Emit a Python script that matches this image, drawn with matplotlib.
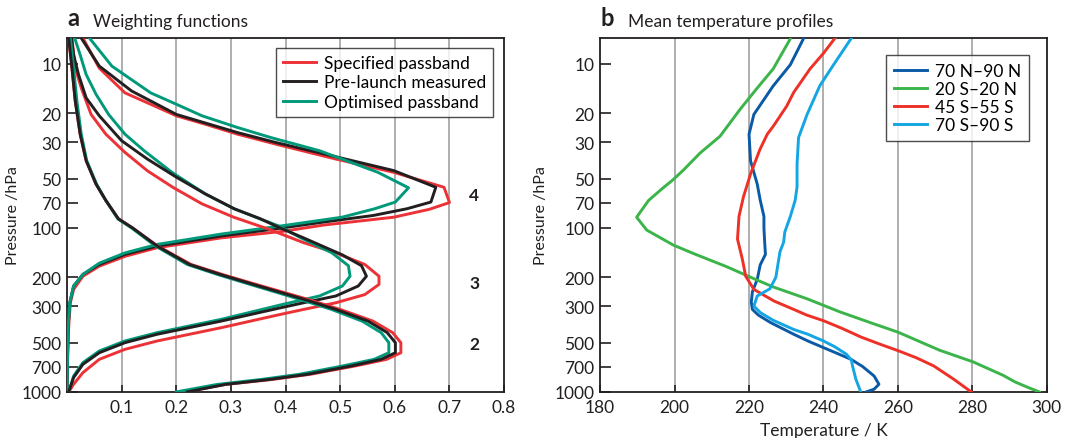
import matplotlib
matplotlib.use("Agg")
import matplotlib.pyplot as plt
from matplotlib.ticker import FixedLocator, NullLocator

plt.rcParams['font.family'] = ['Lato', 'DejaVu Sans']

# ---------------- Panel a: weighting functions ----------------
# Channel 4
P4_spec = [6.95, 10.6, 15.0, 17.6, 20.7, 23.3, 26.8, 31.0, 38.0, 45.8, 56.5, 70.0, 77.0, 86.0, 96.0, 105.0, 115.0, 132.0, 149.0, 171.0, 197.0, 237.0, 286.0, 400.0, 600.0, 1000.0]
W4_spec = [0.029, 0.059, 0.106, 0.153, 0.200, 0.253, 0.312, 0.385, 0.492, 0.598, 0.690, 0.700, 0.663, 0.598, 0.470, 0.394, 0.282, 0.165, 0.106, 0.059, 0.029, 0.012, 0.006, 0.003, 0.001, 0.0]
P4_meas = [6.95, 10.3, 14.6, 20.3, 26.2, 30.0, 36.8, 44.7, 56.5, 69.5, 76.4, 84.0, 92.0, 100.0, 112.0, 129.0, 145.0, 167.0, 192.0, 226.0, 286.0, 400.0, 600.0, 1000.0]
W4_meas = [0.026, 0.059, 0.118, 0.200, 0.312, 0.380, 0.492, 0.598, 0.675, 0.666, 0.622, 0.560, 0.470, 0.394, 0.282, 0.165, 0.106, 0.059, 0.029, 0.012, 0.005, 0.002, 0.001, 0.0]
P4_opt = [6.95, 10.3, 15.0, 17.6, 20.7, 24.4, 28.1, 33.8, 45.8, 56.9, 69.5, 76.4, 85.9, 97.0, 109.0, 126.0, 142.0, 164.0, 192.0, 226.0, 286.0, 400.0, 600.0, 1000.0]
W4_opt = [0.041, 0.082, 0.153, 0.200, 0.247, 0.312, 0.373, 0.462, 0.569, 0.625, 0.601, 0.563, 0.504, 0.394, 0.282, 0.165, 0.106, 0.059, 0.029, 0.012, 0.005, 0.002, 0.001, 0.0]

# Channel 3
P3_spec = [6.95, 10.6, 14.0, 20.3, 26.8, 34.6, 44.8, 56.6, 71.3, 86.0, 102.0, 123.0, 142.0, 167.0, 197.0, 221.0, 255.0, 286.0, 314.0, 340.0, 406.0, 489.0, 550.0, 633.0, 763.0, 898.0, 1000.0]
W3_spec = [0.009, 0.015, 0.026, 0.044, 0.071, 0.106, 0.147, 0.194, 0.247, 0.305, 0.370, 0.433, 0.492, 0.545, 0.571, 0.571, 0.545, 0.492, 0.433, 0.385, 0.282, 0.165, 0.106, 0.059, 0.029, 0.012, 0.003]
P3_meas = [6.95, 8.8, 11.6, 16.1, 20.7, 29.4, 38.0, 49.0, 62.0, 76.4, 87.7, 100.0, 115.0, 146.0, 170.0, 197.0, 226.0, 260.0, 286.0, 310.0, 370.0, 445.0, 501.0, 577.0, 679.0, 818.0, 1000.0]
W3_meas = [0.008, 0.012, 0.021, 0.035, 0.059, 0.100, 0.147, 0.200, 0.253, 0.306, 0.353, 0.390, 0.433, 0.504, 0.539, 0.548, 0.533, 0.492, 0.433, 0.385, 0.282, 0.165, 0.106, 0.059, 0.029, 0.012, 0.003]
P3_opt = [6.95, 8.8, 11.6, 15.3, 20.3, 26.8, 33.8, 45.8, 62.0, 76.4, 88.0, 98.0, 115.0, 142.0, 170.0, 197.0, 226.0, 260.0, 293.0, 361.0, 435.0, 489.0, 563.0, 663.0, 800.0, 1000.0]
W3_opt = [0.014, 0.024, 0.035, 0.053, 0.076, 0.106, 0.141, 0.192, 0.253, 0.306, 0.353, 0.390, 0.428, 0.485, 0.515, 0.518, 0.504, 0.462, 0.394, 0.282, 0.165, 0.106, 0.059, 0.029, 0.012, 0.003]

# Channel 2
P2 = [6.95, 10.6, 16.8, 26.8, 38.9, 54.0, 68.0, 88.0, 100.0, 129.0, 167.0, 193.0, 221.0, 249.0, 272.0, 314.0, 370.0, 435.0, 501.0, 577.0, 633.0, 694.0, 781.0, 840.0, 900.0, 1000.0]
W2_spec = [0.003, 0.009, 0.015, 0.024, 0.035, 0.053, 0.071, 0.094, 0.120, 0.166, 0.227, 0.286, 0.346, 0.400, 0.440, 0.500, 0.560, 0.596, 0.611, 0.611, 0.585, 0.528, 0.445, 0.375, 0.290, 0.215]
W2_meas = [0.003, 0.009, 0.015, 0.024, 0.035, 0.053, 0.071, 0.094, 0.120, 0.165, 0.224, 0.282, 0.341, 0.394, 0.433, 0.492, 0.551, 0.586, 0.601, 0.601, 0.575, 0.521, 0.440, 0.370, 0.290, 0.220]
W2_opt = [0.006, 0.012, 0.018, 0.026, 0.036, 0.054, 0.071, 0.093, 0.118, 0.162, 0.220, 0.277, 0.335, 0.387, 0.425, 0.484, 0.540, 0.575, 0.589, 0.589, 0.562, 0.505, 0.425, 0.355, 0.275, 0.200]

series_labels_a = ["Specified passband", "Pre-launch measured", "Optimised passband"]
channel_labels = ["4", "3", "2"]
channel_label_P = [63, 216, 510]

# ---------------- Panel b: mean temperature profiles ----------------
P_70N = [6.95, 10.1, 13.6, 20.3, 26.8, 38.9, 54, 67.7, 85, 100, 122, 145, 168, 206, 245, 283, 314, 340, 378, 445, 489, 537, 580, 633, 700, 800, 898, 963, 1000]
T_70N = [234.7, 231.1, 226.5, 221.3, 220.0, 220.4, 222.2, 223.0, 224.0, 224.0, 224.2, 224.4, 223.0, 222.2, 220.9, 220.6, 220.9, 222.5, 225.8, 232.0, 235.8, 240.0, 243.5, 247.4, 250.5, 253.6, 254.9, 253.6, 251.5]
P_20S = [6.95, 10.7, 14.2, 18.9, 27.6, 35, 44.3, 51, 58, 68, 86, 103, 127, 143, 172, 203, 229, 270, 325, 383, 432, 557, 656, 791, 870, 940, 1000]
T_20S = [231.2, 226.5, 222.0, 217.6, 212.2, 206.8, 202.4, 199.5, 196.5, 193.0, 189.8, 192.5, 199.6, 205.0, 213.9, 221.1, 226.5, 235.5, 244.4, 253.3, 260.0, 271.2, 280.2, 288.2, 291.5, 295.0, 298.0]
P_45S = [6.95, 8.6, 10.7, 14.9, 18.1, 24, 26.8, 33.3, 46.9, 64.6, 85, 100, 117, 155, 197, 237, 279, 314, 340, 368, 410, 462, 510, 560, 620, 694, 837, 920, 1000]
T_45S = [243.1, 240.0, 236.4, 232.0, 230.1, 226.5, 224.9, 222.9, 220.4, 218.5, 217.3, 217.1, 216.9, 218.2, 219.1, 221.3, 226.7, 232.0, 235.5, 240.0, 245.0, 250.0, 255.0, 260.0, 265.0, 269.6, 275.0, 277.5, 279.7]
P_70S = [6.95, 10.2, 13.6, 20.3, 28.1, 40.7, 56, 67.7, 85, 106, 122, 140, 200, 235, 260, 300, 329, 366, 416, 445, 489, 530, 590, 640, 694, 837, 1000]
T_70S = [247.5, 242.6, 239.0, 235.6, 233.3, 232.9, 232.9, 232.4, 231.1, 229.6, 229.3, 228.3, 227.2, 225.6, 222.2, 221.3, 223.1, 226.5, 232.0, 235.8, 240.0, 243.0, 246.2, 247.5, 247.8, 248.7, 250.0]
series_labels_b = ["70 N\u201390 N", "20 S\u201320 N", "45 S\u201355 S", "70 S\u201390 S"]

p_ticks = [10, 20, 30, 50, 70, 100, 200, 300, 500, 700, 1000]
xticks_a = [0.1, 0.2, 0.3, 0.4, 0.5, 0.6, 0.7, 0.8]
xticks_b = [180, 200, 220, 240, 260, 280, 300]

# ---------------- styling ----------------
C_RED = '#ec3237'
C_BLK = '#231f20'
C_GRN = '#00997a'
C_B_DB = '#0b5aa6'
C_B_GR = '#3bb44a'
C_B_RD = '#ee3127'
C_B_LB = '#14a6e2'
GRID_C = '#a8a8a8'
LW = 2.1
FS = 12.5

fig = plt.figure(figsize=(10.66, 4.39), dpi=100)
axA = fig.add_axes([0.0629, 0.105, 0.410, 0.806])
axB = fig.add_axes([0.563, 0.105, 0.419, 0.806])


def style_axis(ax, xticks, xlim):
    ax.set_yscale('log')
    ax.set_ylim(1000, 6.95)
    ax.set_xlim(*xlim)
    ax.yaxis.set_major_locator(FixedLocator(p_ticks))
    ax.set_yticklabels([str(p) for p in p_ticks])
    ax.yaxis.set_minor_locator(NullLocator())
    ax.set_xticks(xticks)
    ax.set_xticklabels([("%g" % v) for v in xticks])
    ax.tick_params(axis='y', direction='in', length=8, width=1.2, pad=4,
                   labelsize=FS, colors='#231f20')
    ax.tick_params(axis='x', direction='in', length=5, width=1.2, pad=5,
                   labelsize=FS, colors='#231f20')
    for s in ax.spines.values():
        s.set_linewidth(1.3)
        s.set_color('#231f20')
    for xv in xticks:
        if xlim[0] < xv < xlim[1]:
            ax.axvline(xv, color=GRID_C, lw=1.3, zorder=0)


style_axis(axA, xticks_a, (0, 0.8))
style_axis(axB, xticks_b, (180, 300))

# Panel a lines
hs = []
for (P, W, c, lab) in [(P4_spec, W4_spec, C_RED, series_labels_a[0]),
                       (P4_meas, W4_meas, C_BLK, series_labels_a[1]),
                       (P4_opt, W4_opt, C_GRN, series_labels_a[2])]:
    h, = axA.plot(W, P, color=c, lw=LW, label=lab, zorder=3)
    hs.append(h)
for (P, W, c) in [(P3_spec, W3_spec, C_RED), (P3_opt, W3_opt, C_GRN), (P3_meas, W3_meas, C_BLK),
                  (P2, W2_spec, C_RED), (P2, W2_opt, C_GRN), (P2, W2_meas, C_BLK)]:
    axA.plot(W, P, color=c, lw=LW, zorder=3)

for lab, p in zip(channel_labels, channel_label_P):
    axA.text(0.745, p, lab, fontsize=FS, fontweight='bold', ha='center', va='center',
             color='#231f20')

legA = axA.legend(handles=hs, loc='upper right', bbox_to_anchor=(0.975, 0.972),
                  borderaxespad=0, fancybox=False, frameon=True, fontsize=FS,
                  handlelength=1.9, handletextpad=0.45, labelspacing=0.2,
                  borderpad=0.4)
legA.get_frame().set_edgecolor('#231f20')
legA.get_frame().set_linewidth(1.0)

# Panel b lines
hb = []
for (P, T, c, lab) in [(P_70N, T_70N, C_B_DB, series_labels_b[0]),
                       (P_20S, T_20S, C_B_GR, series_labels_b[1]),
                       (P_45S, T_45S, C_B_RD, series_labels_b[2]),
                       (P_70S, T_70S, C_B_LB, series_labels_b[3])]:
    h, = axB.plot(T, P, color=c, lw=LW, label=lab, zorder=3)
    hb.append(h)

legB = axB.legend(handles=hb, loc='upper right', bbox_to_anchor=(0.96, 0.952),
                  borderaxespad=0, fancybox=False, frameon=True, fontsize=FS,
                  handlelength=1.9, handletextpad=0.45, labelspacing=0.12,
                  borderpad=0.45)
legB.get_frame().set_edgecolor('#231f20')
legB.get_frame().set_linewidth(1.0)

# Labels and titles
for ax in (axA, axB):
    ax.set_ylabel('Pressure /hPa', fontsize=11.5, color='#231f20')
axA.yaxis.set_label_coords(-0.108, 0.5)
axB.yaxis.set_label_coords(-0.116, 0.5)
axB.set_xlabel('Temperature / K', fontsize=FS, color='#231f20')
axB.xaxis.set_label_coords(0.5, -0.085)

axA.text(0.0, 1.025, 'a', transform=axA.transAxes, fontsize=17, fontweight='bold',
         ha='left', va='bottom', color='#231f20')
axA.text(0.06, 1.025, 'Weighting functions', transform=axA.transAxes, fontsize=FS,
         ha='left', va='bottom', color='#231f20')
axB.text(0.0, 1.025, 'b', transform=axB.transAxes, fontsize=17, fontweight='bold',
         ha='left', va='bottom', color='#231f20')
axB.text(0.063, 1.025, 'Mean temperature profiles', transform=axB.transAxes, fontsize=FS,
         ha='left', va='bottom', color='#231f20')

fig.savefig('out.png', dpi=100)
